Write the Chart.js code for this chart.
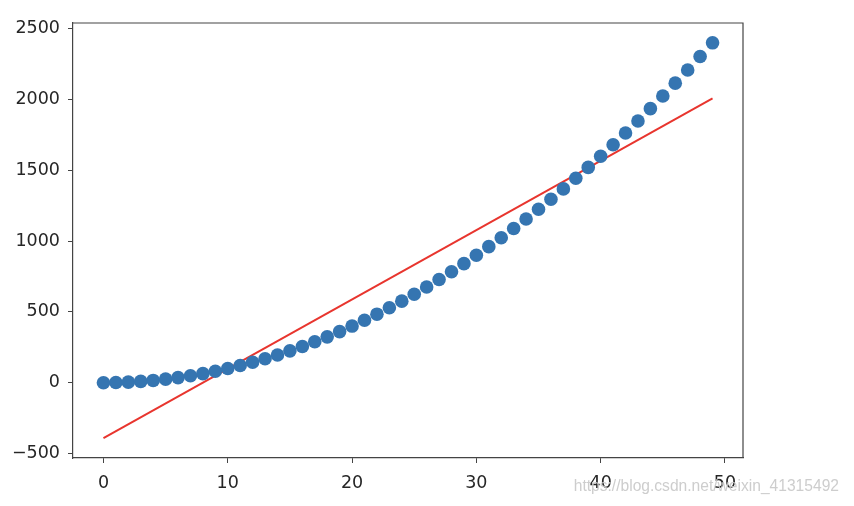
<!DOCTYPE html>
<html lang="en">
<head>
    <meta charset="UTF-8">
    <title>Scatter with linear fit</title>
    <script src="https://cdn.jsdelivr.net/npm/chart.js"></script>
    <style>
        html, body { margin: 0; padding: 0; background: #fff; }
        #wrap { position: relative; width: 854px; height: 506px; }
        #watermark {
            position: absolute;
            right: 15px;
            top: 477px;
            font-family: 'Liberation Sans', Arial, sans-serif;
            font-size: 15.6px;
            color: rgba(200, 200, 200, 0.9);
            white-space: nowrap;
        }
    </style>
</head>
<body>
    <div id="wrap">
        <canvas id="chart" width="854" height="506"></canvas>
        <div id="watermark">https://blog.csdn.net/weixin_41315492</div>
    </div>
    <script>
        // data
        const xValues = [0, 1, 2, 3, 4, 5, 6, 7, 8, 9, 10, 11, 12, 13, 14, 15, 16, 17, 18, 19,
            20, 21, 22, 23, 24, 25, 26, 27, 28, 29, 30, 31, 32, 33, 34, 35, 36, 37, 38, 39,
            40, 41, 42, 43, 44, 45, 46, 47, 48, 49];
        const yValues = [0, 1, 4, 9, 16, 25, 36, 49, 64, 81, 100, 121, 144, 169, 196, 225, 256, 289, 324, 361,
            400, 441, 484, 529, 576, 625, 676, 729, 784, 841, 900, 961, 1024, 1089, 1156, 1225, 1296, 1369, 1444, 1521,
            1600, 1681, 1764, 1849, 1936, 2025, 2116, 2209, 2304, 2401];
        const fitX = [0, 49];
        const fitY = [-392, 2009];
        const xTicks = [0, 10, 20, 30, 40, 50];
        const yTicks = [-500, 0, 500, 1000, 1500, 2000, 2500];

        const frameColor = '#444444';
        const tickFont = { family: 'DejaVu Sans', size: 17.5 };

        // top and right spines
        const framePlugin = {
            id: 'frame',
            afterDraw(chart) {
                const { ctx, chartArea: a } = chart;
                ctx.save();
                ctx.strokeStyle = frameColor;
                ctx.lineWidth = 1.2;
                ctx.beginPath();
                ctx.moveTo(a.left, a.top);
                ctx.lineTo(a.right, a.top);
                ctx.lineTo(a.right, a.bottom);
                ctx.stroke();
                ctx.restore();
            }
        };

        new Chart(document.getElementById('chart'), {
            type: 'scatter',
            data: {
                datasets: [
                    {
                        type: 'line',
                        data: fitX.map((x, i) => ({ x: x, y: fitY[i] })),
                        borderColor: '#e8352e',
                        borderWidth: 2,
                        pointRadius: 0,
                        fill: false,
                        order: 2
                    },
                    {
                        data: xValues.map((x, i) => ({ x: x, y: yValues[i] })),
                        backgroundColor: '#3575b1',
                        borderWidth: 0,
                        pointRadius: 6.8,
                        order: 1
                    }
                ]
            },
            options: {
                responsive: false,
                animation: false,
                layout: { padding: { left: 0, top: 23, right: 111, bottom: 0 } },
                plugins: {
                    legend: { display: false },
                    tooltip: { enabled: false }
                },
                scales: {
                    x: {
                        type: 'linear',
                        min: -2.45,
                        max: 51.45,
                        afterBuildTicks: s => { s.ticks = xTicks.map(v => ({ value: v })); },
                        afterFit: s => { s.height = 48; },
                        grid: {
                            drawOnChartArea: false,
                            drawTicks: true,
                            tickLength: 5,
                            tickColor: frameColor
                        },
                        border: { display: true, color: frameColor, width: 1.2 },
                        ticks: { color: '#262626', font: tickFont, padding: 10, maxRotation: 0 }
                    },
                    y: {
                        min: -532,
                        max: 2541,
                        afterBuildTicks: s => { s.ticks = yTicks.map(v => ({ value: v })); },
                        afterFit: s => { s.width = 73; },
                        grid: {
                            drawOnChartArea: false,
                            drawTicks: true,
                            tickLength: 5,
                            tickColor: frameColor
                        },
                        border: { display: true, color: frameColor, width: 1.2 },
                        ticks: {
                            color: '#262626',
                            font: tickFont,
                            padding: 8,
                            callback: v => (v < 0 ? '\u2212' + Math.abs(v) : String(v))
                        }
                    }
                }
            },
            plugins: [framePlugin]
        });
    </script>
</body>
</html>
